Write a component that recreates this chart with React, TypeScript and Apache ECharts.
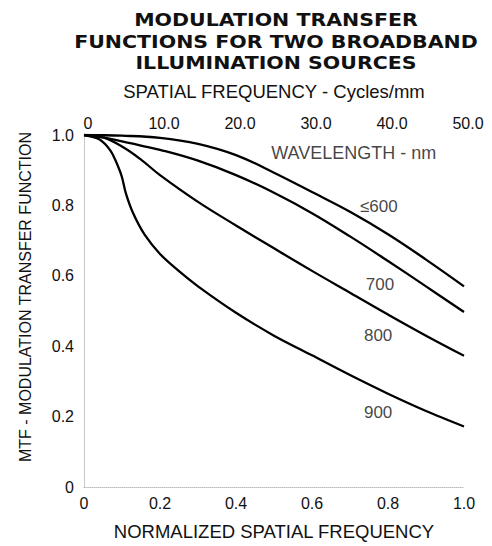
import React, { useEffect, useRef } from "react";
import * as echarts from "echarts";

const TITLE_LINES = ["MODULATION TRANSFER", "FUNCTIONS FOR TWO BROADBAND", "ILLUMINATION SOURCES"];
const TOP_AXIS_NAME = "SPATIAL FREQUENCY - Cycles/mm";
const BOTTOM_AXIS_NAME = "NORMALIZED SPATIAL FREQUENCY";
const Y_AXIS_NAME = "MTF - MODULATION TRANSFER FUNCTION";
const LEGEND_TITLE = "WAVELENGTH - nm";

// curve ≤600 nm
const x600 = [0, 0.1, 0.2, 0.3, 0.4, 0.5, 0.6, 0.7, 0.8, 0.9, 1.0];
const y600 = [1.0, 0.998, 0.992, 0.975, 0.943, 0.893, 0.838, 0.782, 0.718, 0.646, 0.57];
// curve 700 nm
const x700 = [0, 0.05, 0.1, 0.15, 0.2, 0.3, 0.4, 0.5, 0.6, 0.7, 0.8, 0.9, 1.0];
const y700 = [1.0, 0.993, 0.982, 0.97, 0.958, 0.927, 0.886, 0.836, 0.778, 0.712, 0.642, 0.57, 0.497];
// curve 800 nm
const x800 = [0, 0.05, 0.1, 0.15, 0.2, 0.3, 0.4, 0.5, 0.6, 0.7, 0.8, 0.9, 1.0];
const y800 = [1.0, 0.993, 0.967, 0.93, 0.886, 0.81, 0.743, 0.678, 0.614, 0.552, 0.49, 0.43, 0.373];
// curve 900 nm
const x900 = [0, 0.04, 0.07, 0.09, 0.1, 0.11, 0.13, 0.16, 0.2, 0.25, 0.3, 0.4, 0.5, 0.6, 0.7, 0.8, 0.9, 1.0];
const y900 = [1.0, 0.988, 0.955, 0.91, 0.88, 0.835, 0.776, 0.716, 0.662, 0.613, 0.57, 0.495, 0.43, 0.374, 0.318, 0.265, 0.216, 0.172];

// curve labels (data coordinates)
const curveLabels = ["≤600", "700", "800", "900"];
const curveLabelX = [0.776, 0.779, 0.774, 0.774];
const curveLabelY = [0.796, 0.576, 0.431, 0.211];
const legendTitleX = [0.71];
const legendTitleY = [0.949];

const FONT = '"Liberation Sans", Arial, Helvetica, sans-serif';
const TITLE_FONT = '"DejaVu Sans", "Liberation Sans", sans-serif';
const INK = "#111";

const pairs = (xs: number[], ys: number[]) => xs.map((x, i) => [x, ys[i]]);

export default function App() {
  const ref = useRef<HTMLDivElement>(null);
  useEffect(() => {
    document.body.style.margin = "0";
    if (!ref.current) return;
    const chart = echarts.init(ref.current, undefined, { renderer: "svg" });
    const lineSeries = (name: string, xs: number[], ys: number[], smooth: number) => ({
      type: "line",
      name,
      data: pairs(xs, ys),
      xAxisIndex: 0,
      yAxisIndex: 0,
      smooth,
      showSymbol: false,
      symbol: "none",
      lineStyle: { color: "#000", width: 2.3 },
      z: 3,
    });
    const titleY = [20, 41.5, 63];
    const option: any = {
      animation: false,
      backgroundColor: "#fff",
      textStyle: { fontFamily: FONT },
      grid: { left: 84, right: 28, top: 135, bottom: 57.5, containLabel: false },
      xAxis: [
        {
          type: "value",
          min: 0,
          max: 1,
          interval: 0.2,
          position: "bottom",
          name: BOTTOM_AXIS_NAME,
          nameLocation: "middle",
          nameGap: 35,
          nameTextStyle: { fontFamily: FONT, fontSize: 18.5, color: INK },
          axisLine: { show: true, lineStyle: { type: "dotted", color: "#bbb", width: 1 } },
          axisTick: { show: false },
          splitLine: { show: false },
          axisLabel: {
            margin: 8,
            fontSize: 16,
            color: INK,
            fontFamily: FONT,
            formatter: (v: number) => (v === 0 ? "0" : v.toFixed(1)),
          },
        },
        {
          type: "value",
          min: 0,
          max: 50,
          interval: 10,
          position: "top",
          name: TOP_AXIS_NAME,
          nameLocation: "middle",
          nameGap: 34,
          nameTextStyle: { fontFamily: FONT, fontSize: 18.5, color: INK },
          axisLine: { show: false },
          axisTick: { show: false },
          splitLine: { show: false },
          axisLabel: {
            margin: 4,
            fontSize: 16,
            color: INK,
            fontFamily: FONT,
            padding: [0, 0, 0, 8],
            formatter: (v: number) => (v === 0 ? "0" : v.toFixed(1)),
          },
        },
      ],
      yAxis: {
        type: "value",
        min: 0,
        max: 1,
        interval: 0.2,
        axisLine: { show: true, lineStyle: { type: "dotted", color: "#bbb", width: 1 } },
        axisTick: { show: false },
        splitLine: { show: false },
        axisLabel: {
          margin: 10,
          fontSize: 16,
          color: INK,
          fontFamily: FONT,
          formatter: (v: number) => (v === 0 ? "0" : v.toFixed(1)),
        },
      },
      graphic: [
        ...TITLE_LINES.map((t, i) => ({
          type: "text",
          x: 276,
          y: titleY[i],
          scaleX: 1.14,
          style: {
            text: t,
            fill: INK,
            font: `bold 18px ${TITLE_FONT}`,
            textAlign: "center",
            textVerticalAlign: "middle",
          },
        })),
        {
          type: "text",
          x: 25,
          y: 297,
          rotation: Math.PI / 2,
          style: {
            text: Y_AXIS_NAME,
            fill: INK,
            font: `16px ${FONT}`,
            textAlign: "center",
            textVerticalAlign: "middle",
          },
        },
      ],
      series: [
        lineSeries("≤600", x600, y600, 0.4),
        lineSeries("700", x700, y700, 0.4),
        lineSeries("800", x800, y800, 0.4),
        lineSeries("900", x900, y900, 0.3),
        {
          type: "scatter",
          name: "curve labels",
          symbolSize: 0,
          silent: true,
          data: curveLabels.map((t, i) => ({ value: [curveLabelX[i], curveLabelY[i]], name: t })),
          label: {
            show: true,
            position: "inside",
            formatter: (p: any) => p.name,
            fontSize: 17,
            color: INK,
            fontFamily: FONT,
          },
          z: 4,
        },
        {
          type: "scatter",
          name: "legend title",
          symbolSize: 0,
          silent: true,
          data: legendTitleX.map((x, i) => ({ value: [x, legendTitleY[i]], name: LEGEND_TITLE })),
          label: {
            show: true,
            position: "inside",
            formatter: (p: any) => p.name,
            fontSize: 18,
            color: INK,
            fontFamily: FONT,
          },
          z: 4,
        },
      ],
    };
    chart.setOption(option);
    return () => chart.dispose();
  }, []);
  return <div ref={ref} style={{ width: 492, height: 546 }} />;
}
